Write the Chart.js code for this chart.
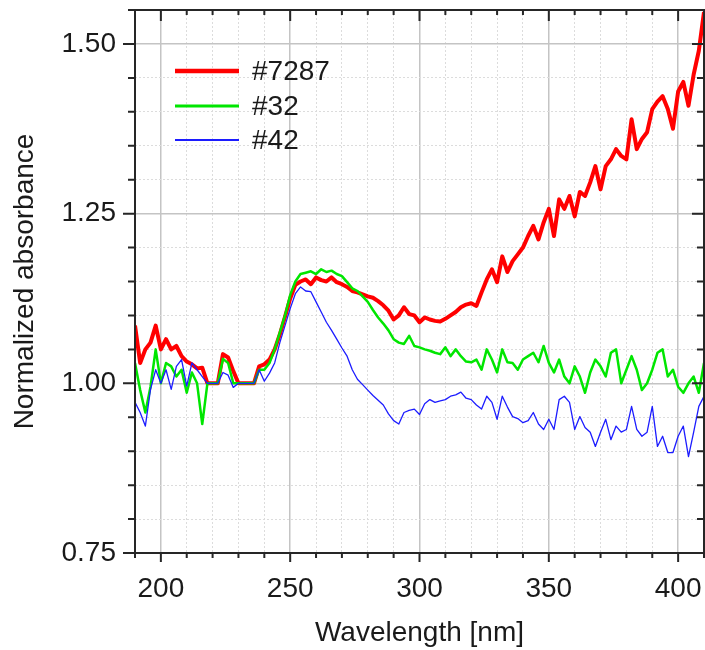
<!DOCTYPE html>
<html>
<head>
<meta charset="utf-8">
<title>Normalized absorbance</title>
<script src="https://cdn.jsdelivr.net/npm/chart.js@4.4.1/dist/chart.umd.min.js"></script>
<style>
  html, body { margin: 0; padding: 0; background: #fff; }
  #wrap { width: 705px; height: 650px; }
</style>
</head>
<body>
<div id="wrap"><canvas id="absChart" width="705" height="650"></canvas></div>
<script>
// wavelength (nm)
const wavelengths = [
    190, 192, 194, 196, 198, 200, 202, 204, 206, 208,
    210, 212, 214, 216, 218, 220, 222, 224, 226, 228,
    230, 232, 234, 236, 238, 240, 242, 244, 246, 248,
    250, 252, 254, 256, 258, 260, 262, 264, 266, 268,
    270, 272, 274, 276, 278, 280, 282, 284, 286, 288,
    290, 292, 294, 296, 298, 300, 302, 304, 306, 308,
    310, 312, 314, 316, 318, 320, 322, 324, 326, 328,
    330, 332, 334, 336, 338, 340, 342, 344, 346, 348,
    350, 352, 354, 356, 358, 360, 362, 364, 366, 368,
    370, 372, 374, 376, 378, 380, 382, 384, 386, 388,
    390, 392, 394, 396, 398, 400, 402, 404, 406, 408,
    410
];

// #7287
const abs7287 = [
    1.085, 1.03, 1.05, 1.06, 1.085, 1.05, 1.065, 1.05, 1.055, 1.04,
    1.032, 1.028, 1.022, 1.023, 1.0, 1.0, 1.0, 1.043, 1.038, 1.018,
    1.0, 1.0, 1.0, 1.0, 1.025, 1.028, 1.035, 1.05, 1.072, 1.098,
    1.125, 1.145, 1.15, 1.153, 1.146, 1.156, 1.152, 1.15, 1.156, 1.149,
    1.146, 1.142, 1.136, 1.134, 1.131, 1.128, 1.126, 1.121, 1.115, 1.107,
    1.094, 1.10, 1.112, 1.102, 1.10, 1.09, 1.097, 1.094, 1.092, 1.091,
    1.095, 1.10, 1.105, 1.112, 1.116, 1.118, 1.114, 1.134, 1.153, 1.168,
    1.149, 1.187, 1.164, 1.18, 1.19, 1.20, 1.217, 1.232, 1.212, 1.237,
    1.257, 1.217, 1.271, 1.257, 1.276, 1.246, 1.282, 1.276, 1.296, 1.32,
    1.286, 1.32, 1.33, 1.345, 1.335, 1.33, 1.389, 1.345, 1.36, 1.37,
    1.404, 1.415, 1.423, 1.404, 1.375, 1.43, 1.444, 1.409, 1.455, 1.49,
    1.547
];

// #32
const abs32 = [
    1.03, 0.99, 0.957, 0.995, 1.05, 1.0, 1.03, 1.025, 1.01, 1.02,
    0.986, 1.016, 1.0, 0.94, 1.0, 1.0, 1.0, 1.036, 1.03, 1.0,
    1.0, 1.0, 1.0, 1.0, 1.02, 1.02, 1.03, 1.05, 1.075, 1.10,
    1.13, 1.15, 1.161, 1.163, 1.165, 1.161, 1.168, 1.164, 1.166, 1.161,
    1.158, 1.149, 1.14, 1.136, 1.128, 1.12, 1.108, 1.097, 1.088, 1.078,
    1.065, 1.06, 1.058, 1.07, 1.055, 1.053, 1.05, 1.048, 1.045, 1.043,
    1.053, 1.04, 1.05, 1.04, 1.032, 1.031, 1.035, 1.02, 1.05, 1.035,
    1.016, 1.05, 1.031, 1.03, 1.02, 1.035, 1.04, 1.045, 1.031, 1.055,
    1.03, 1.016, 1.035, 1.01, 1.0, 1.025, 1.01, 0.986, 1.016, 1.035,
    1.025, 1.01, 1.045, 1.05, 1.0, 1.02, 1.04, 1.02, 0.99, 1.0,
    1.02, 1.045, 1.05, 1.01, 1.02, 0.995, 0.986, 1.0, 1.01, 0.986,
    1.03
];

// #42
const abs42 = [
    0.972, 0.957, 0.937, 0.991, 1.02, 1.0, 1.02, 0.991, 1.025, 1.035,
    0.996, 1.03, 1.02, 1.01, 1.0, 1.0, 1.0, 1.016, 1.012, 0.994,
    1.0, 1.0, 1.0, 1.0, 1.02, 1.003, 1.015, 1.03, 1.06, 1.085,
    1.11, 1.132, 1.142, 1.136, 1.135, 1.12, 1.105, 1.09, 1.078, 1.065,
    1.052, 1.04, 1.02, 1.006, 0.998, 0.99, 0.982, 0.975, 0.968, 0.955,
    0.945, 0.94, 0.957, 0.96, 0.962, 0.954, 0.97, 0.976, 0.972, 0.974,
    0.976, 0.981, 0.983, 0.987, 0.978, 0.976, 0.968, 0.962, 0.981, 0.972,
    0.947, 0.981, 0.965, 0.951, 0.948, 0.942, 0.945, 0.957, 0.94, 0.932,
    0.947, 0.932, 0.976, 0.981, 0.972, 0.932, 0.951, 0.935, 0.928, 0.907,
    0.928, 0.947, 0.917, 0.937, 0.928, 0.932, 0.966, 0.932, 0.922, 0.928,
    0.966, 0.907, 0.922, 0.898, 0.898, 0.922, 0.937, 0.892, 0.928, 0.966,
    0.981
];

const seriesNames = ["#7287", "#32", "#42"];
const xMajorTicks = [200, 250, 300, 350, 400];
const yMajorTicks = [0.75, 1.00, 1.25, 1.50];

const FONT = "'Liberation Sans', Arial, sans-serif";
Chart.defaults.font.family = FONT;
Chart.defaults.color = "#1a1a1a";

function isMajor(list, v) {
    return list.some(m => Math.abs(m - v) < 1e-6);
}

function toPoints(ys) {
    return wavelengths.map((x, i) => ({ x: x, y: ys[i] }));
}

// fixed box size, no extra label padding
function fixBox(size) {
    return function(s) {
        if (s.isHorizontal()) s.height = size;
        else s.width = size;
        s.paddingTop = 0;
        s.paddingBottom = 0;
        s.paddingLeft = 0;
        s.paddingRight = 0;
    };
}

// frame + tick marks (in/out like the original plot)
const framePlugin = {
    id: "frame",
    afterDatasetsDraw(chart) {
        const ctx = chart.ctx;
        const a = chart.chartArea;
        const xs = chart.scales.x;
        const ys = chart.scales.y;
        ctx.save();
        ctx.strokeStyle = "#262626";
        ctx.lineWidth = 2;
        ctx.beginPath();
        xs.ticks.forEach(t => {
            const px = xs.getPixelForValue(t.value);
            const big = isMajor(xMajorTicks, t.value);
            ctx.moveTo(px, a.bottom);
            ctx.lineTo(px, a.bottom + (big ? 9 : 5));
            ctx.moveTo(px, a.top);
            ctx.lineTo(px, a.top + (big ? 11 : 5));
        });
        ys.ticks.forEach(t => {
            const py = ys.getPixelForValue(t.value);
            const big = isMajor(yMajorTicks, t.value);
            ctx.moveTo(a.left, py);
            ctx.lineTo(a.left - (big ? 12 : 7), py);
            ctx.moveTo(a.right, py);
            ctx.lineTo(a.right - (big ? 12 : 7), py);
        });
        ctx.stroke();
        ctx.strokeRect(a.left, a.top, a.right - a.left, a.bottom - a.top);
        ctx.restore();
    }
};

// legend inside the plot, top left
const legendPlugin = {
    id: "insideLegend",
    afterDraw(chart) {
        const ctx = chart.ctx;
        const rows = [71, 106, 140];
        ctx.save();
        chart.data.datasets.forEach((ds, i) => {
            ctx.strokeStyle = ds.borderColor;
            ctx.lineWidth = ds.borderWidth + 0.5;
            ctx.beginPath();
            ctx.moveTo(175, rows[i]);
            ctx.lineTo(239, rows[i]);
            ctx.stroke();
            ctx.fillStyle = "#1a1a1a";
            ctx.font = "28px " + FONT;
            ctx.textBaseline = "middle";
            ctx.textAlign = "left";
            ctx.fillText(ds.label, 252, rows[i] + 1);
        });
        ctx.restore();
    }
};

const absCtx = document.getElementById("absChart").getContext("2d");
const absChart = new Chart(absCtx, {
    type: "line",
    data: {
        datasets: [{
            label: seriesNames[0],
            data: toPoints(abs7287),
            borderColor: "#ff0000",
            borderWidth: 4,
            order: 2,
        }, {
            label: seriesNames[1],
            data: toPoints(abs32),
            borderColor: "#00e600",
            borderWidth: 2.5,
            order: 1,
        }, {
            label: seriesNames[2],
            data: toPoints(abs42),
            borderColor: "#1c1cff",
            borderWidth: 1.3,
            order: 0,
        }, ],
    },
    options: {
        responsive: false,
        animation: false,
        layout: {
            padding: { top: 10, right: 1, left: 0, bottom: 0 },
        },
        elements: {
            point: { radius: 0 },
            line: { tension: 0, borderJoinStyle: "round" },
        },
        plugins: {
            legend: { display: false },
            tooltip: { enabled: false },
        },
        scales: {
            x: {
                type: "linear",
                min: 190,
                max: 410,
                afterFit: fixBox(97),
                ticks: {
                    stepSize: 10,
                    autoSkip: false,
                    maxRotation: 0,
                    padding: 19,
                    font: { size: 28 },
                    callback: (v) => isMajor(xMajorTicks, v) ? String(v) : "",
                },
                grid: {
                    drawTicks: false,
                    color: (c) => c.tick && isMajor(xMajorTicks, c.tick.value) ? "#c4c4c4" : "#dcdcdc",
                    lineWidth: (c) => c.tick && isMajor(xMajorTicks, c.tick.value) ? 1.5 : 1,
                },
                border: {
                    display: false,
                    dash: (c) => c.tick && !isMajor(xMajorTicks, c.tick.value) ? [2, 2] : [],
                },
                title: {
                    display: true,
                    text: "Wavelength [nm]",
                    font: { size: 28 },
                    padding: { top: 0, bottom: 0 },
                },
            },
            y: {
                type: "linear",
                min: 0.75,
                max: 1.55,
                afterFit: fixBox(135),
                ticks: {
                    stepSize: 0.05,
                    autoSkip: false,
                    padding: 19,
                    font: { size: 28 },
                    callback: (v) => isMajor(yMajorTicks, v) ? v.toFixed(2) : "",
                },
                grid: {
                    drawTicks: false,
                    color: (c) => c.tick && isMajor(yMajorTicks, c.tick.value) ? "#c4c4c4" : "#dcdcdc",
                    lineWidth: (c) => c.tick && isMajor(yMajorTicks, c.tick.value) ? 1.5 : 1,
                },
                border: {
                    display: false,
                    dash: (c) => c.tick && !isMajor(yMajorTicks, c.tick.value) ? [2, 2] : [],
                },
                title: {
                    display: true,
                    text: "Normalized absorbance",
                    font: { size: 28 },
                    padding: { top: 8, bottom: 0 },
                },
            },
        },
    },
    plugins: [framePlugin, legendPlugin],
});
</script>
</body>
</html>
